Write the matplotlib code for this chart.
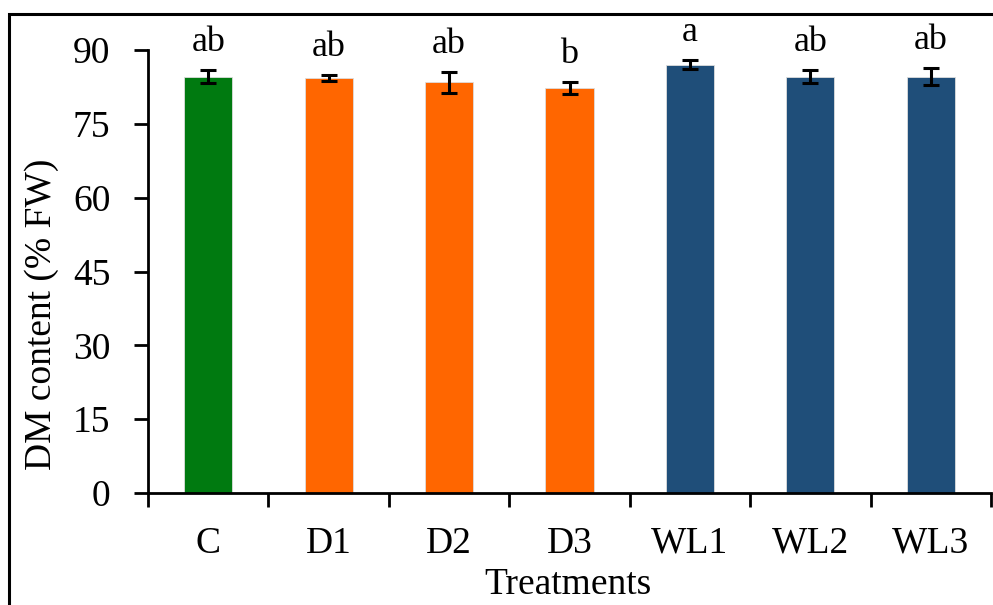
import matplotlib
matplotlib.use("Agg")
import matplotlib.pyplot as plt
from matplotlib.patches import Rectangle
import numpy as np

categories = ["C", "D1", "D2", "D3", "WL1", "WL2", "WL3"]
means = [84.6, 84.25, 83.4, 82.35, 87.0, 84.6, 84.6]
errors = [1.4, 0.6, 2.1, 1.2, 0.9, 1.3, 1.8]
letters = ["ab", "ab", "ab", "b", "a", "ab", "ab"]
colors = ["#007A10", "#FF6600", "#FF6600", "#FF6600", "#1F4E79", "#1F4E79", "#1F4E79"]
yticks = [0, 15, 30, 45, 60, 75, 90]

plt.rcParams["font.family"] = ["Liberation Serif", "DejaVu Serif"]

W, H = 993, 605
fig = plt.figure(figsize=(W / 100, H / 100), dpi=100)
ax = fig.add_axes([148 / W, 1 - 493 / H, (991 - 148) / W, (493 - 50) / H])

x = np.arange(len(categories))
ax.bar(x, means, width=0.40, color=colors, edgecolor="#dddddd", linewidth=0.6, zorder=2)
ax.errorbar(x, means, yerr=errors, fmt="none", ecolor="black", elinewidth=2.2,
            capsize=6, capthick=2.2, zorder=3)
for xi, m, e, lab in zip(x, means, errors, letters):
    ax.annotate(lab, (xi, m + e), xytext=(0, 8), textcoords="offset points",
                ha="center", va="bottom", fontsize=26, annotation_clip=False)

ax.set_xlim(-0.5, len(categories) - 0.5)
ax.set_ylim(0, 90)
ax.set_yticks(yticks)
ax.set_yticklabels([str(t) for t in yticks], fontsize=27)
ax.set_xticks(x)
ax.set_xticklabels(categories, fontsize=27)
ax.set_xticks(np.arange(-0.5, len(categories)), minor=True)
ax.tick_params(axis="x", which="major", length=0, pad=24)
ax.tick_params(axis="x", which="minor", length=10, width=2, direction="out")
ax.tick_params(axis="y", which="major", length=10, width=2, direction="out", pad=17)

for s in ["top", "right"]:
    ax.spines[s].set_visible(False)
ax.spines["left"].set_linewidth(2)
ax.spines["bottom"].set_linewidth(2)

ax.text((42 - 148) / (991 - 148), (493 - 314) / (493 - 50), "DM content (% FW)",
        rotation=90, ha="center", va="center", fontsize=27, transform=ax.transAxes)
ax.text((568 - 148) / (991 - 148), (493 - 585) / (493 - 50), "Treatments",
        ha="center", va="center", fontsize=27, transform=ax.transAxes)

fig.patches.append(Rectangle((9 / W, -0.1), 1.2, 1 - 14 / H + 0.1, transform=fig.transFigure,
                             fill=False, edgecolor="black", linewidth=2.2))

fig.savefig("out.png", dpi=100)
